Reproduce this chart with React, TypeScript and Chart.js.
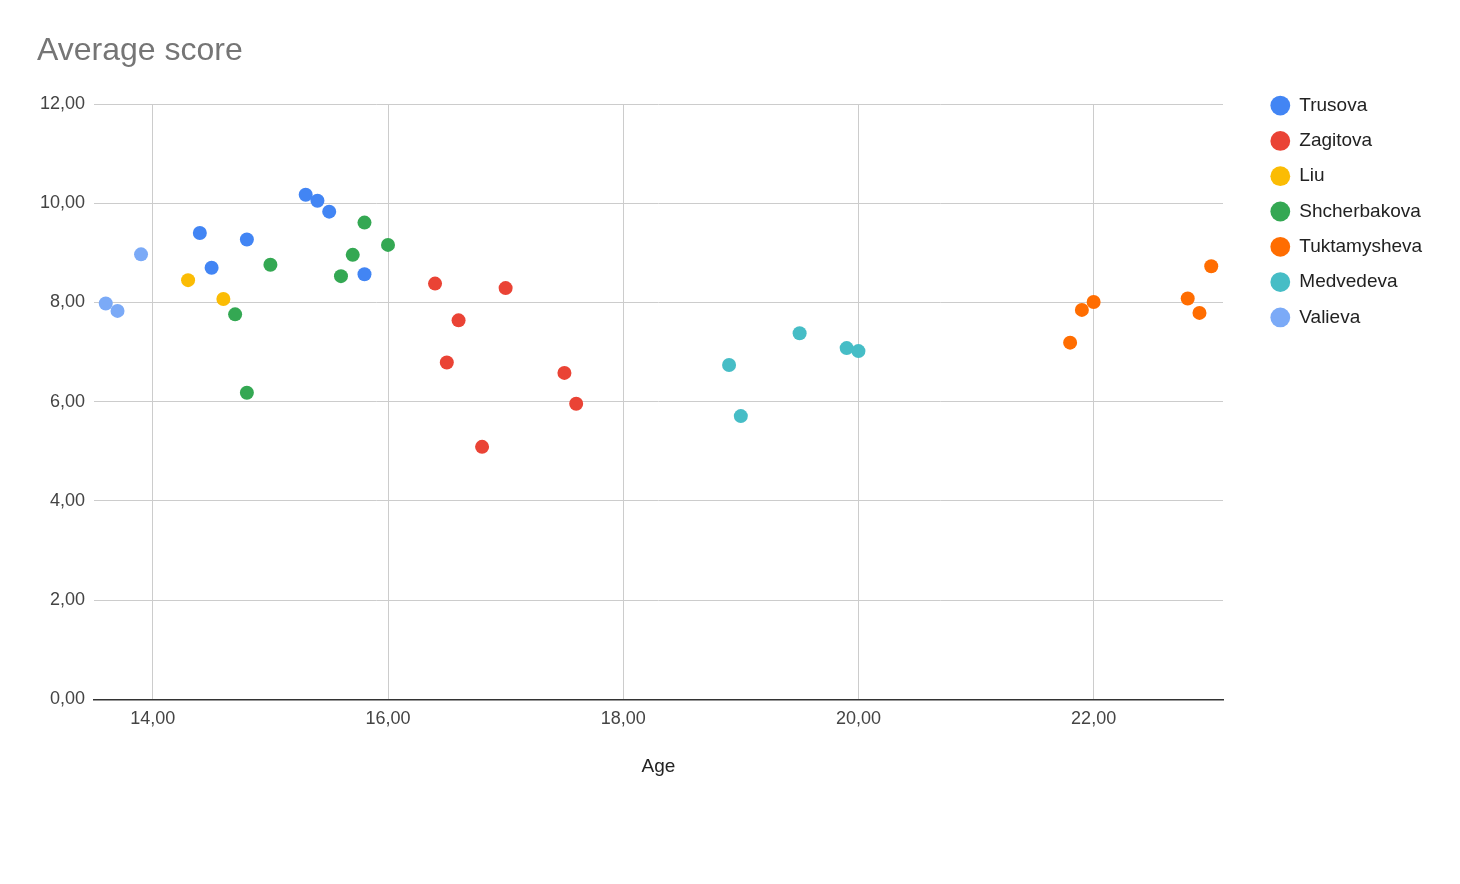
import React, { useEffect, useRef } from "react";
import { Chart, registerables } from "chart.js";

Chart.register(...registerables);

// ---- data ----
const chartTitle = "Average score";
const xAxisTitle = "Age";

const seriesNames = ["Trusova", "Zagitova", "Liu", "Shcherbakova", "Tuktamysheva", "Medvedeva", "Valieva"];
const seriesColors = ["#4285F4", "#EA4335", "#FBBC04", "#34A853", "#FF6D01", "#46BDC6", "#7BAAF7"];

const trusovaAge = [14.4, 14.5, 14.8, 15.3, 15.4, 15.5, 15.8];
const trusovaScore = [9.4, 8.7, 9.27, 10.17, 10.05, 9.83, 8.57];
const zagitovaAge = [16.4, 16.5, 16.6, 16.8, 17.0, 17.5, 17.6];
const zagitovaScore = [8.38, 6.79, 7.64, 5.09, 8.29, 6.58, 5.96];
const liuAge = [14.3, 14.6];
const liuScore = [8.45, 8.07];
const shcherbakovaAge = [14.7, 14.8, 15.0, 15.6, 15.7, 15.8, 16.0];
const shcherbakovaScore = [7.76, 6.18, 8.76, 8.53, 8.96, 9.61, 9.16];
const tuktamyshevaAge = [21.8, 21.9, 22.0, 22.8, 22.9, 23.0];
const tuktamyshevaScore = [7.19, 7.85, 8.01, 8.08, 7.79, 8.73];
const medvedevaAge = [18.9, 19.0, 19.5, 19.9, 20.0];
const medvedevaScore = [6.74, 5.71, 7.38, 7.08, 7.02];
const valievaAge = [13.6, 13.7, 13.9];
const valievaScore = [7.98, 7.83, 8.97];

const seriesAges = [trusovaAge, zagitovaAge, liuAge, shcherbakovaAge, tuktamyshevaAge, medvedevaAge, valievaAge];
const seriesScores = [trusovaScore, zagitovaScore, liuScore, shcherbakovaScore, tuktamyshevaScore, medvedevaScore, valievaScore];

const xTickValues = [14, 16, 18, 20, 22];
const yTickValues = [0, 2, 4, 6, 8, 10, 12];
const xMin = 13.5;
const xMax = 23.1;

const fmt = (v: number) => v.toFixed(2).replace(".", ",");

export default function App() {
  const canvasRef = useRef<HTMLCanvasElement | null>(null);

  useEffect(() => {
    if (!canvasRef.current) return;
    Chart.defaults.font.family = "'Liberation Sans', Arial, sans-serif";

    const datasets = seriesNames.map((name, i) => ({
      label: name,
      data: seriesAges[i].map((a, j) => ({ x: a, y: seriesScores[i][j] })),
      backgroundColor: seriesColors[i],
      borderColor: seriesColors[i],
      borderWidth: 0,
      pointRadius: 7,
      pointHoverRadius: 7,
      pointStyle: "circle" as const,
    }));

    const chart = new Chart(canvasRef.current, {
      type: "scatter",
      data: { datasets },
      options: {
        animation: false,
        responsive: true,
        maintainAspectRatio: false,
        layout: { padding: { top: 0, left: 37, right: 0, bottom: 106.2 } },
        plugins: {
          tooltip: { enabled: false },
          title: {
            display: true,
            text: chartTitle,
            align: "start",
            color: "#757575",
            font: { size: 32, weight: "normal" },
            padding: { top: 0, bottom: 33.2 },
          },
          legend: {
            display: true,
            position: "right",
            align: "start",
            fullSize: true,
            title: {
              display: true,
              text: "",
              font: { size: 10 },
              padding: { top: 67.8, bottom: 0 },
            },
            labels: {
              usePointStyle: true,
              pointStyle: "circle",
              boxHeight: 14,
              boxWidth: 19,
              padding: 16.3,
              color: "#222222",
              font: { size: 19 },
            },
          },
        },
        scales: {
          x: {
            type: "linear",
            position: "bottom",
            min: xMin,
            max: xMax,
            afterBuildTicks: (s: any) => {
              s.ticks = xTickValues.map((v) => ({ value: v }));
            },
            afterFit: (s: any) => {
              s.height = 78.4;
              s.paddingRight = 237;
            },
            grid: { color: "#cccccc", lineWidth: 1, drawTicks: false, tickLength: 0 },
            border: { display: true, color: "#333333", width: 1.5 },
            ticks: {
              padding: 8.5,
              color: "#444444",
              font: { size: 18 },
              callback: (v: any) => fmt(Number(v)),
            },
            title: {
              display: true,
              text: xAxisTitle,
              color: "#222222",
              font: { size: 19 },
              padding: { top: 0, bottom: 0 },
            },
          },
          y: {
            type: "linear",
            position: "left",
            min: 0,
            max: 12,
            afterBuildTicks: (s: any) => {
              s.ticks = yTickValues.map((v) => ({ value: v }));
            },
            afterFit: (s: any) => {
              s.width = 57;
              s.paddingTop = 104;
            },
            grid: {
              color: (ctx: any) => (ctx.tick && ctx.tick.value === 0 ? "rgba(0,0,0,0)" : "#cccccc"),
              lineWidth: 1,
              drawTicks: false,
              tickLength: 0,
            },
            border: { display: false },
            ticks: {
              padding: 9,
              color: "#444444",
              font: { size: 18 },
              callback: (v: any) => fmt(Number(v)),
            },
          },
          gap: {
            type: "linear",
            position: "right",
            display: true,
            grid: { display: false, drawTicks: false },
            border: { display: false },
            ticks: { display: false },
            afterFit: (s: any) => {
              s.width = 31.5;
            },
          },
        },
      },
    } as any);

    return () => chart.destroy();
  }, []);

  return (
    <div style={{ position: "absolute", left: 0, top: 0, width: 1460, height: 884, background: "#ffffff" }}>
      <canvas ref={canvasRef} />
    </div>
  );
}
